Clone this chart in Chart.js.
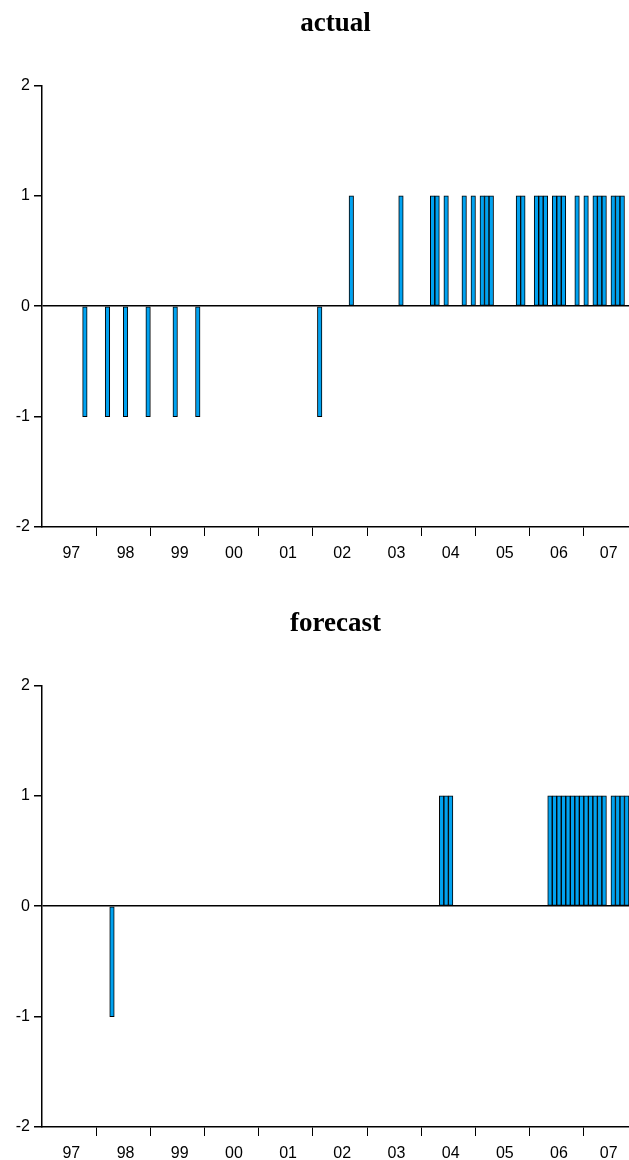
<!DOCTYPE html>
<html>
<head>
<meta charset="utf-8">
<script src="https://cdn.jsdelivr.net/npm/chart.js@4.4.1/dist/chart.umd.min.js"></script>
<style>
  html, body { margin: 0; padding: 0; background: #fff; }
  .box { position: absolute; left: 0; width: 629px; height: 560px; }
</style>
</head>
<body>
<div class="box" style="top:0"><canvas id="actualChart"></canvas></div>
<div class="box" style="top:600px"><canvas id="forecastChart"></canvas></div>
<script>
// monthly sample 1997M01 - 2007M10
const years = [1997, 1998, 1999, 2000, 2001, 2002, 2003, 2004, 2005, 2006, 2007];
const lastMonth = 10;

// month indexes (0 = 1997M01) where the series is +1 / -1, everything else 0
const actualUp = [68, 79, 86, 87, 89, 93, 95, 97, 98, 99, 105, 106, 109, 110, 111,
                  113, 114, 115, 118, 120, 122, 123, 124, 126, 127, 128];
const actualDown = [9, 14, 18, 23, 29, 34, 61];
const forecastUp = [88, 89, 90, 112, 113, 114, 115, 116, 117, 118, 119, 120, 121,
                    122, 123, 124, 126, 127, 128, 129];
const forecastDown = [15];

const yearLabels = ['97', '98', '99', '00', '01', '02', '03', '04', '05', '06', '07'];
const yearLabelAt = [6, 18, 30, 42, 54, 66, 78, 90, 102, 114, 125];
const yTicks = [-2, -1, 0, 1, 2];

const months = [];
years.forEach(y => {
  const n = y === 2007 ? lastMonth : 12;
  for (let m = 1; m <= n; m++) months.push(y + 'M' + String(m).padStart(2, '0'));
});

function series(up, down) {
  const v = months.map(() => null);
  up.forEach(i => v[i] = 1);
  down.forEach(i => v[i] = -1);
  return v;
}

function makeChart(id, title, values) {
  new Chart(document.getElementById(id), {
    type: 'bar',
    data: {
      labels: months,
      datasets: [{
        data: values,
        backgroundColor: 'rgb(0,162,240)',
        borderColor: '#000',
        borderWidth: 1,
        borderSkipped: false,
        barPercentage: 1,
        categoryPercentage: 1
      }]
    },
    options: {
      animation: false,
      responsive: true,
      maintainAspectRatio: false,
      layout: { padding: 0 },
      plugins: {
        legend: { display: false },
        tooltip: { enabled: false },
        title: {
          display: true,
          fullSize: false,
          text: title,
          color: '#000',
          font: { family: 'Liberation Serif', size: 27, weight: 'bold' },
          padding: { top: 8, bottom: 45 }
        }
      },
      scales: {
        x: {
          offset: true,
          border: { display: true, color: '#000', width: 1.5 },
          grid: {
            offset: true,
            drawOnChartArea: false,
            drawTicks: true,
            tickLength: 9,
            lineWidth: 1,
            color: ctx => (ctx.index > 0 && ctx.index % 12 === 0) ? '#000' : 'rgba(0,0,0,0)'
          },
          ticks: {
            autoSkip: false,
            maxRotation: 0,
            minRotation: 0,
            padding: 8,
            color: '#000',
            font: { family: 'Liberation Sans', size: 16 },
            callback: (v, i) => {
              const k = yearLabelAt.indexOf(i);
              return k >= 0 ? yearLabels[k] : '';
            }
          },
          afterFit: s => { s.height = 33; s.paddingLeft = 0; s.paddingRight = 0; }
        },
        y: {
          min: -2,
          max: 2,
          afterBuildTicks: s => { s.ticks = yTicks.map(v => ({ value: v })); },
          border: { display: true, color: '#000', width: 1.5 },
          grid: {
            drawOnChartArea: true,
            drawTicks: true,
            tickLength: 8,
            tickColor: '#000',
            lineWidth: 1.5,
            color: ctx => (ctx.tick && ctx.tick.value === 0) ? '#000' : 'rgba(0,0,0,0)'
          },
          ticks: {
            padding: 4,
            color: '#000',
            font: { family: 'Liberation Sans', size: 16 }
          },
          afterFit: s => { s.width = 42; }
        }
      }
    }
  });
}

makeChart('actualChart', 'actual', series(actualUp, actualDown));
makeChart('forecastChart', 'forecast', series(forecastUp, forecastDown));
</script>
</body>
</html>
